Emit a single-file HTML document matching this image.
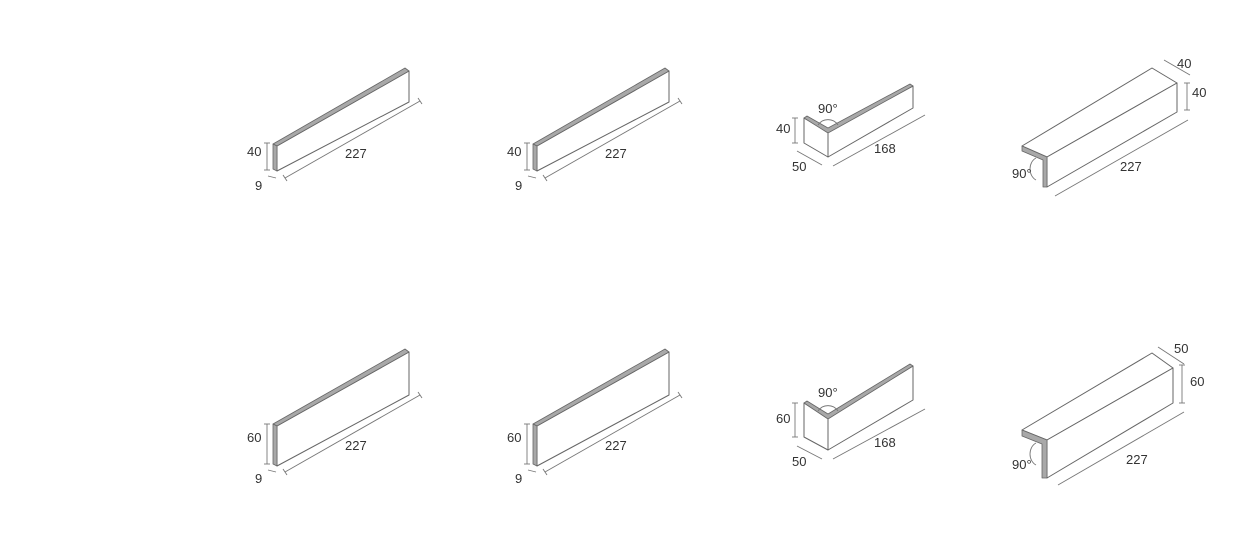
<!DOCTYPE html>
<html><head><meta charset="utf-8"><style>
html,body{margin:0;padding:0;background:#fff;}
svg{display:block}
text{font-family:"Liberation Sans",sans-serif;font-size:13px;fill:#333;}
.o{fill:#fff;stroke:#666;stroke-width:1;stroke-linejoin:round}
.g{fill:#a8a8a8;stroke:#666;stroke-width:0.8;stroke-linejoin:round}
.d{stroke:#777;stroke-width:0.9;fill:none}
</style></head><body>
<svg width="1237" height="545" viewBox="0 0 1237 545">
<defs>
<g id="flat40">
<polygon class="o" points="277,146 409,71 409,102 277,171"/>
<polygon class="g" points="273,144 405,68 409,71 277,146"/>
<polygon class="g" points="273,144 277,146 277,171 273,169"/>
<line class="d" x1="285" y1="178" x2="420" y2="101"/><line class="d" x1="283" y1="175" x2="287" y2="181"/><line class="d" x1="418" y1="98" x2="422" y2="104"/>
<line class="d" x1="267" y1="143" x2="267" y2="170"/><line class="d" x1="264" y1="143" x2="270" y2="143"/><line class="d" x1="264" y1="170" x2="270" y2="170"/>
<line class="d" x1="268" y1="176" x2="276" y2="178"/>
<text x="247" y="156">40</text><text x="345" y="158">227</text><text x="255" y="190">9</text>
</g>
<g id="flat60">
<polygon class="o" points="277,426 409,352 409,395 277,466"/>
<polygon class="g" points="273,424 405,349 409,352 277,426"/>
<polygon class="g" points="273,424 277,426 277,466 273,464"/>
<line class="d" x1="285" y1="472" x2="420" y2="395"/><line class="d" x1="283" y1="469" x2="287" y2="475"/><line class="d" x1="418" y1="392" x2="422" y2="398"/>
<line class="d" x1="267" y1="424" x2="267" y2="464"/><line class="d" x1="264" y1="424" x2="270" y2="424"/><line class="d" x1="264" y1="464" x2="270" y2="464"/>
<line class="d" x1="268" y1="470" x2="276" y2="472"/>
<text x="247" y="442">60</text><text x="345" y="450">227</text><text x="255" y="483">9</text>
</g>
</defs>
<use href="#flat40"/>
<use href="#flat40" x="260"/>
<use href="#flat60"/>
<use href="#flat60" x="260"/>

<polygon class="o" points="804,118 828,131 828,157 804,143"/>
<polygon class="o" points="828,131 913,86 913,108 828,157"/>
<polygon class="g" points="804,118 807,116 828,128 910,84 913,86 828,133"/>
<path class="d" d="M818,125 A12,12 0 0 1 838,125"/>
<line class="d" x1="795" y1="118" x2="795" y2="143"/><line class="d" x1="792" y1="118" x2="798" y2="118"/><line class="d" x1="792" y1="143" x2="798" y2="143"/>
<line class="d" x1="797" y1="151" x2="822" y2="165"/>
<line class="d" x1="833" y1="166" x2="925" y2="115"/>
<text x="818" y="113">90°</text><text x="776" y="133">40</text><text x="792" y="171">50</text><text x="874" y="153">168</text>

<polygon class="o" points="804,403 828,418 828,450 804,437"/>
<polygon class="o" points="828,418 913,366 913,400 828,450"/>
<polygon class="g" points="804,403 807,401 828,414 910,364 913,366 828,419"/>
<path class="d" d="M818,411 A12,12 0 0 1 838,411"/>
<line class="d" x1="795" y1="403" x2="795" y2="437"/><line class="d" x1="792" y1="403" x2="798" y2="403"/><line class="d" x1="792" y1="437" x2="798" y2="437"/>
<line class="d" x1="797" y1="446" x2="822" y2="459"/>
<line class="d" x1="833" y1="459" x2="925" y2="409"/>
<text x="818" y="397">90°</text><text x="776" y="423">60</text><text x="792" y="466">50</text><text x="874" y="447">168</text>

<polygon class="o" points="1022,146 1152,68 1177,83 1047,157"/>
<polygon class="o" points="1047,157 1177,83 1177,112 1047,187"/>
<polygon class="g" points="1022,146 1047,157 1047,187 1043,187 1043,160 1022,151"/>
<path class="d" d="M1036,158 A10,12 0 0 0 1036,180"/>
<line class="d" x1="1164" y1="60" x2="1190" y2="75"/>
<line class="d" x1="1187" y1="83" x2="1187" y2="110"/><line class="d" x1="1184" y1="83" x2="1190" y2="83"/><line class="d" x1="1184" y1="110" x2="1190" y2="110"/>
<line class="d" x1="1055" y1="196" x2="1188" y2="120"/>
<text x="1177" y="68">40</text><text x="1192" y="97">40</text><text x="1120" y="171">227</text><text x="1012" y="178">90°</text>

<polygon class="o" points="1022,430 1152,353 1173,368 1047,440"/>
<polygon class="o" points="1047,440 1173,368 1173,403 1047,478"/>
<polygon class="g" points="1022,430 1047,440 1047,478 1042,478 1042,444 1022,436"/>
<path class="d" d="M1036,443 A10,12 0 0 0 1036,465"/>
<line class="d" x1="1158" y1="347" x2="1184" y2="364"/>
<line class="d" x1="1182" y1="365" x2="1182" y2="403"/><line class="d" x1="1179" y1="365" x2="1185" y2="365"/><line class="d" x1="1179" y1="403" x2="1185" y2="403"/>
<line class="d" x1="1058" y1="485" x2="1184" y2="412"/>
<text x="1174" y="353">50</text><text x="1190" y="386">60</text><text x="1126" y="464">227</text><text x="1012" y="469">90°</text>
</svg>
</body></html>
